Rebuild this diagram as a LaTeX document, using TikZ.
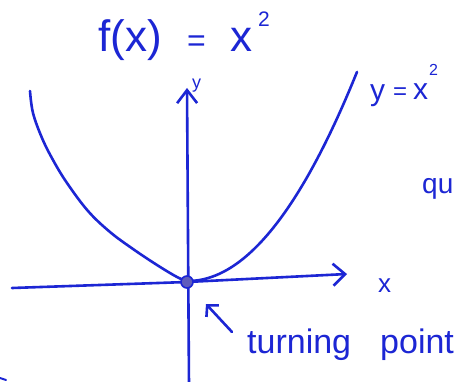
\documentclass[tikz,border=0pt]{standalone}
\usepackage{fontspec}
\setmainfont{Liberation Sans}
\usetikzlibrary{arrows.meta}
\definecolor{ink}{RGB}{28,38,212}
\definecolor{dotc}{RGB}{95,92,188}
\newcommand{\fs}[1]{\fontsize{#1}{#1}\selectfont}
\begin{document}
\begin{tikzpicture}[x=1pt,y=-1pt,
  pen/.style={draw=ink,line width=2.6pt,line cap=round,line join=round},
  txt/.style={inner sep=0pt,text=ink,anchor=base west}]
\clip (0,0) rectangle (455,382);
\fill[white] (0,0) rectangle (455,382);
% coordinates
\coordinate (xl) at (12,288);
\coordinate (xr) at (347,274);
\coordinate (yb) at (189,386);
\coordinate (yt) at (187,88);
\coordinate (tail) at (232,332);
% parabola
\draw[pen] plot[smooth,tension=0.6] coordinates {(30,91) (33,113) (42,138) (53,160) (67,183) (88,211) (110,232) (133,249) (157,265) (177,277) (187,281)};
\draw[pen] plot[domain=188:357,samples=60] (\x,{281-0.732*((\x-188)/10)^2});
% axes
\draw[pen,-{Straight Barb[length=12pt,width=22pt]}] (xl) -- (187,282) -- (xr);
\draw[pen,-{Straight Barb[length=13pt,width=20pt]}] (yb) -- (yt);
% origin dot
\node[circle,fill=dotc,draw=ink,line width=1.6pt,minimum size=12pt,inner sep=0pt] (O) at (187,282) {};
% pointer arrow
\coordinate (tip) at (206,304);
\draw[pen,-{Straight Barb[length=8pt,width=17pt]}] (tail) -- (tip);
% labels
\node[txt] (fx) at (98,52) {\fs{44}f(x)};
\node[txt] (eq) at (187,52) {\fs{32}=};
\node[txt] (xx) at (230,52) {\fs{44}x};
\node[txt] (two) at (258,27) {\fs{21}2};
\node[txt] (yl) at (192,89) {\fs{18}y};
\node[txt] (xlab) at (378,292) {\fs{26}x};
\node[txt] (ry) at (370,101) {\fs{30}y};
\node[txt] (req) at (393,100) {\fs{24}=};
\node[txt] (rx) at (413,100) {\fs{30}x};
\node[txt] (r2) at (429,76) {\fs{16}2};
\node[txt] (qu) at (422,194) {\fs{28}qu};
\node[txt] (turn) at (247,353) {\fs{34}turning};
\node[txt] (pt) at (380,353) {\fs{34}point};
% small mark bottom-left
\draw[pen,line width=2pt] (0,378) -- (6,380);
\end{tikzpicture}
\end{document}
